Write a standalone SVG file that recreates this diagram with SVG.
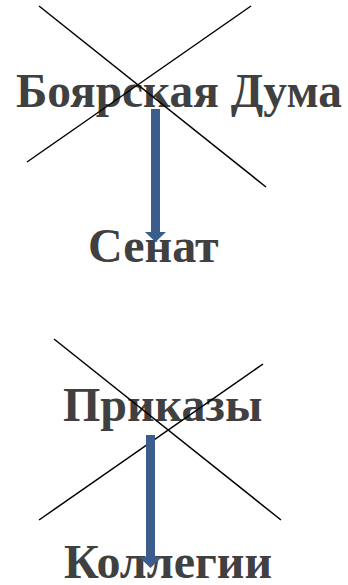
<svg xmlns="http://www.w3.org/2000/svg" width="348" height="585" viewBox="0 0 348 585">
<style>
.lbl{font-family:"Liberation Serif","Times New Roman",serif;font-weight:bold;font-size:48px;fill:#404040}
.cross{stroke:#000;stroke-width:1.5;fill:none}
.arr{fill:#3a5d8c}
</style>
<rect width="348" height="585" fill="#fff"/>
<g id="node-boyar">
<text class="lbl" x="16" y="107" textLength="326" lengthAdjust="spacingAndGlyphs">Боярская Дума</text>
</g>
<g id="node-senat">
<text class="lbl" x="88" y="262">Сенат</text>
</g>
<g id="node-prikazy">
<text class="lbl" x="63" y="421">Приказы</text>
</g>
<g id="node-kollegii">
<text class="lbl" x="64" y="578">Коллегии</text>
</g>
<g id="connectors">
<line class="cross" x1="39" y1="6" x2="266" y2="187"/>
<line class="cross" x1="251" y1="6" x2="27" y2="162"/>
<line class="cross" x1="54" y1="339" x2="281" y2="520"/>
<line class="cross" x1="263" y1="364" x2="39" y2="520"/>
<polygon class="arr" points="151,109 160,109 160,232 166,232 155.5,242 145,232 151,232"/>
<polygon class="arr" points="146,435 155,435 155,557 162,557 150.5,568 139,557 146,557"/>
</g>
</svg>
